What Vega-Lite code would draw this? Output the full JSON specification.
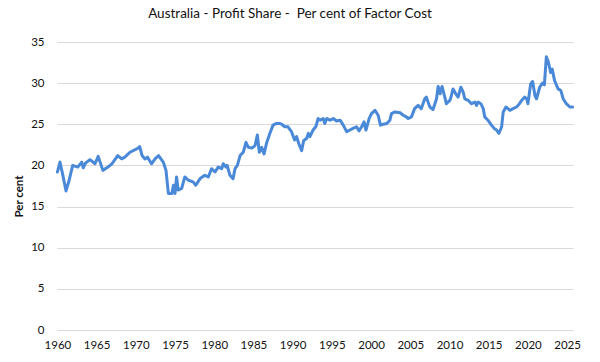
{
  "$schema": "https://vega.github.io/schema/vega-lite/v6.json",
  "autosize": "none",
  "width": 516,
  "height": 288,
  "padding": {"left": 57, "top": 42, "right": 27, "bottom": 32},
  "background": "white",
  "title": {
    "text": "Australia - Profit Share - \u00a0Per cent of Factor Cost",
    "font": "Lato",
    "fontSize": 13.5,
    "fontWeight": "normal",
    "color": "#111",
    "anchor": "middle",
    "dx": -25,
    "offset": 16
  },
  "config": {"view": {"stroke": null}},
  "data": {"values": [
    {"year": 1960.0, "v": 19.2}, {"year": 1960.33, "v": 20.4}, {"year": 1960.7, "v": 18.8}, {"year": 1961.1, "v": 16.9},
    {"year": 1961.5, "v": 18.2}, {"year": 1961.95, "v": 20.0}, {"year": 1962.6, "v": 19.8}, {"year": 1963.1, "v": 20.4},
    {"year": 1963.3, "v": 19.7}, {"year": 1963.6, "v": 20.3}, {"year": 1964.15, "v": 20.7}, {"year": 1964.8, "v": 20.2},
    {"year": 1965.2, "v": 21.1}, {"year": 1965.8, "v": 19.4}, {"year": 1966.45, "v": 19.8}, {"year": 1966.95, "v": 20.2},
    {"year": 1967.7, "v": 21.2}, {"year": 1968.2, "v": 20.8}, {"year": 1968.6, "v": 21.0}, {"year": 1969.25, "v": 21.6},
    {"year": 1970.3, "v": 22.1}, {"year": 1970.5, "v": 22.3}, {"year": 1970.8, "v": 21.2}, {"year": 1971.15, "v": 20.8},
    {"year": 1971.5, "v": 21.0}, {"year": 1972.0, "v": 20.2}, {"year": 1972.45, "v": 20.8}, {"year": 1972.9, "v": 21.2},
    {"year": 1973.5, "v": 20.4}, {"year": 1973.85, "v": 19.4}, {"year": 1974.15, "v": 16.6}, {"year": 1974.6, "v": 16.6},
    {"year": 1974.8, "v": 17.6}, {"year": 1975.0, "v": 16.6}, {"year": 1975.2, "v": 18.6}, {"year": 1975.4, "v": 17.0},
    {"year": 1975.85, "v": 17.2}, {"year": 1976.25, "v": 18.6}, {"year": 1976.7, "v": 18.2}, {"year": 1977.3, "v": 18.0},
    {"year": 1977.65, "v": 17.6}, {"year": 1978.2, "v": 18.4}, {"year": 1978.8, "v": 18.8}, {"year": 1979.25, "v": 18.6},
    {"year": 1979.65, "v": 19.6}, {"year": 1980.1, "v": 19.2}, {"year": 1980.5, "v": 19.8}, {"year": 1980.95, "v": 19.6},
    {"year": 1981.15, "v": 20.2}, {"year": 1981.5, "v": 19.8}, {"year": 1981.65, "v": 20.0}, {"year": 1982.0, "v": 18.8},
    {"year": 1982.2, "v": 18.6}, {"year": 1982.4, "v": 18.4}, {"year": 1982.65, "v": 19.6}, {"year": 1982.95, "v": 20.0},
    {"year": 1983.3, "v": 21.2}, {"year": 1983.7, "v": 21.6}, {"year": 1984.05, "v": 22.8}, {"year": 1984.35, "v": 22.2},
    {"year": 1984.8, "v": 22.1}, {"year": 1985.2, "v": 22.4}, {"year": 1985.5, "v": 23.7}, {"year": 1985.75, "v": 21.6},
    {"year": 1986.05, "v": 22.2}, {"year": 1986.35, "v": 21.4}, {"year": 1986.7, "v": 22.8}, {"year": 1987.1, "v": 23.9},
    {"year": 1987.5, "v": 24.9}, {"year": 1987.95, "v": 25.1}, {"year": 1988.4, "v": 25.1}, {"year": 1988.6, "v": 25.0},
    {"year": 1989.0, "v": 24.7}, {"year": 1989.4, "v": 24.7}, {"year": 1989.85, "v": 24.1}, {"year": 1990.25, "v": 23.1},
    {"year": 1990.5, "v": 23.5}, {"year": 1990.8, "v": 22.6}, {"year": 1991.15, "v": 21.8}, {"year": 1991.4, "v": 23.0},
    {"year": 1991.8, "v": 23.3}, {"year": 1992.0, "v": 23.9}, {"year": 1992.2, "v": 23.5}, {"year": 1992.6, "v": 24.3},
    {"year": 1992.95, "v": 24.7}, {"year": 1993.25, "v": 25.7}, {"year": 1993.5, "v": 25.5}, {"year": 1993.9, "v": 25.7},
    {"year": 1994.1, "v": 25.1}, {"year": 1994.35, "v": 25.7}, {"year": 1994.75, "v": 25.5}, {"year": 1995.2, "v": 25.7},
    {"year": 1995.6, "v": 25.4}, {"year": 1996.05, "v": 25.5}, {"year": 1996.45, "v": 24.9}, {"year": 1996.9, "v": 24.1},
    {"year": 1997.3, "v": 24.3}, {"year": 1997.7, "v": 24.5}, {"year": 1998.15, "v": 24.7}, {"year": 1998.45, "v": 24.2},
    {"year": 1998.8, "v": 24.7}, {"year": 1999.1, "v": 25.3}, {"year": 1999.35, "v": 24.3}, {"year": 1999.75, "v": 25.7},
    {"year": 2000.05, "v": 26.3}, {"year": 2000.5, "v": 26.7}, {"year": 2000.9, "v": 26.1}, {"year": 2001.2, "v": 24.9},
    {"year": 2001.55, "v": 25.0}, {"year": 2002.0, "v": 25.1}, {"year": 2002.4, "v": 25.5}, {"year": 2002.6, "v": 26.3},
    {"year": 2003.05, "v": 26.5}, {"year": 2003.7, "v": 26.4}, {"year": 2004.1, "v": 26.1}, {"year": 2004.5, "v": 25.9},
    {"year": 2004.7, "v": 25.7}, {"year": 2005.15, "v": 25.9}, {"year": 2005.55, "v": 26.9}, {"year": 2006.0, "v": 27.3},
    {"year": 2006.4, "v": 26.9}, {"year": 2006.85, "v": 28.1}, {"year": 2007.05, "v": 28.3}, {"year": 2007.5, "v": 27.1},
    {"year": 2007.9, "v": 26.8}, {"year": 2008.35, "v": 28.1}, {"year": 2008.55, "v": 29.6}, {"year": 2008.8, "v": 28.7},
    {"year": 2009.05, "v": 29.6}, {"year": 2009.4, "v": 28.3}, {"year": 2009.6, "v": 27.5}, {"year": 2010.05, "v": 27.9},
    {"year": 2010.25, "v": 28.5}, {"year": 2010.45, "v": 29.3}, {"year": 2010.8, "v": 28.7}, {"year": 2011.1, "v": 28.3},
    {"year": 2011.45, "v": 29.5}, {"year": 2011.75, "v": 28.9}, {"year": 2011.95, "v": 28.1}, {"year": 2012.4, "v": 27.9},
    {"year": 2012.8, "v": 27.5}, {"year": 2013.25, "v": 27.7}, {"year": 2013.45, "v": 27.3}, {"year": 2013.65, "v": 27.7},
    {"year": 2014.0, "v": 27.5}, {"year": 2014.3, "v": 26.9}, {"year": 2014.5, "v": 25.9}, {"year": 2014.9, "v": 25.5},
    {"year": 2015.35, "v": 24.9}, {"year": 2015.7, "v": 24.5}, {"year": 2016.0, "v": 24.3}, {"year": 2016.3, "v": 23.9},
    {"year": 2016.65, "v": 24.7}, {"year": 2016.85, "v": 26.5}, {"year": 2017.2, "v": 27.1}, {"year": 2017.45, "v": 26.9},
    {"year": 2017.7, "v": 26.7}, {"year": 2018.1, "v": 26.9}, {"year": 2018.55, "v": 27.1}, {"year": 2018.85, "v": 27.4},
    {"year": 2019.2, "v": 27.9}, {"year": 2019.6, "v": 28.3}, {"year": 2019.85, "v": 28.1}, {"year": 2020.0, "v": 27.5},
    {"year": 2020.35, "v": 29.9}, {"year": 2020.6, "v": 30.2}, {"year": 2020.9, "v": 28.5}, {"year": 2021.1, "v": 28.1},
    {"year": 2021.5, "v": 29.5}, {"year": 2021.85, "v": 30.0}, {"year": 2022.1, "v": 29.8}, {"year": 2022.35, "v": 33.2},
    {"year": 2022.6, "v": 32.6}, {"year": 2022.9, "v": 31.3}, {"year": 2023.1, "v": 31.7}, {"year": 2023.4, "v": 30.3},
    {"year": 2023.85, "v": 29.3}, {"year": 2024.2, "v": 29.1}, {"year": 2024.5, "v": 28.1}, {"year": 2024.9, "v": 27.5},
    {"year": 2025.35, "v": 27.1}, {"year": 2025.7, "v": 27.1}
  ]},
  "mark": {"type": "line", "color": "#4a88d8", "strokeWidth": 3, "strokeJoin": "round", "strokeCap": "round"},
  "encoding": {
    "x": {
      "field": "year", "type": "quantitative",
      "scale": {"domain": [1959.95, 2025.75], "nice": false, "zero": false},
      "axis": {
        "title": null, "values": [1960, 1965, 1970, 1975, 1980, 1985, 1990, 1995, 2000, 2005, 2010, 2015, 2020, 2025],
        "format": "d", "grid": false, "domain": false, "ticks": false,
        "labelPadding": 9, "labelFont": "Lato", "labelFontSize": 11.5, "labelColor": "#111",
        "labelOverlap": false, "labelFlush": false
      }
    },
    "y": {
      "field": "v", "type": "quantitative",
      "scale": {"domain": [0, 35], "nice": false},
      "axis": {
        "title": "Per cent", "titleFont": "Lato", "titleFontSize": 11.5, "titleFontWeight": "bold", "titleColor": "#111",
        "titlePadding": 6, "titleY": 154,
        "values": [0, 5, 10, 15, 20, 25, 30, 35],
        "grid": true, "gridColor": "#d9d9d9", "gridWidth": 1,
        "domain": false, "ticks": false,
        "labelPadding": 13, "labelFont": "Lato", "labelFontSize": 11.5, "labelColor": "#111"
      }
    }
  }
}
